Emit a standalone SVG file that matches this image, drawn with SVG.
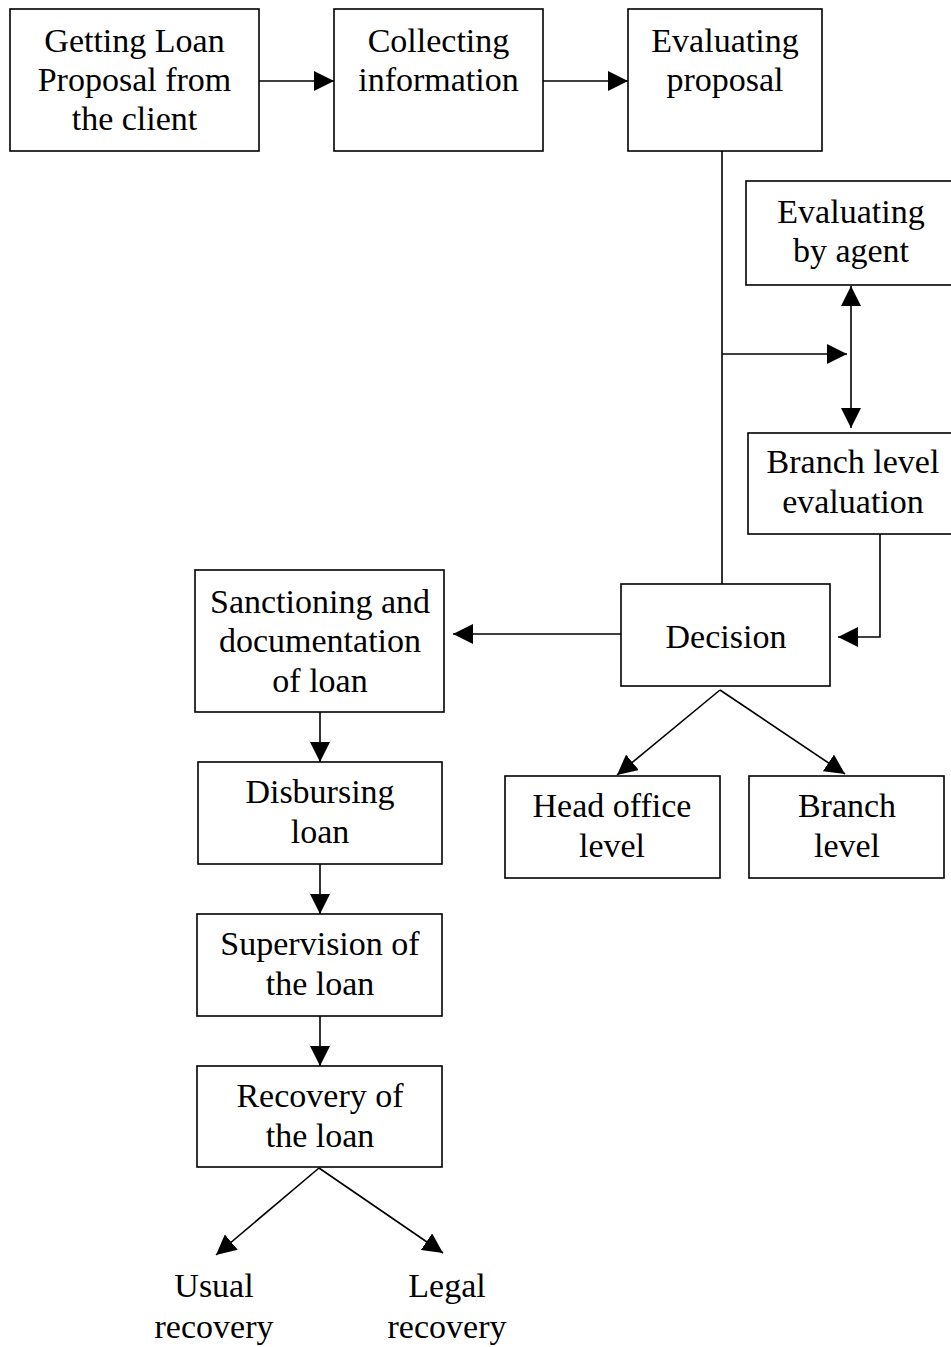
<svg xmlns="http://www.w3.org/2000/svg" width="951" height="1347" viewBox="0 0 951 1347">
<style>
.box{fill:#fff;stroke:#000;stroke-width:1.6}
.ln{fill:none;stroke:#000;stroke-width:1.6}
.t{font-family:"Liberation Serif","Times New Roman",serif;font-size:34px;fill:#000;text-anchor:middle}
</style>
<defs>
<marker id="ah" markerUnits="userSpaceOnUse" markerWidth="20" markerHeight="20" refX="20" refY="10" orient="auto-start-reverse" viewBox="0 0 20 20">
<path d="M0,0 L20,10 L0,20 z" fill="#000"/>
</marker>
</defs>
<rect width="951" height="1347" fill="#fff"/>
<g id="connectors">
<line class="ln" x1="259" y1="81" x2="334" y2="81" marker-end="url(#ah)"/>
<line class="ln" x1="543" y1="81" x2="628" y2="81" marker-end="url(#ah)"/>
<line class="ln" x1="722" y1="151" x2="722" y2="584"/>
<line class="ln" x1="722" y1="354" x2="847" y2="354" marker-end="url(#ah)"/>
<line class="ln" x1="851" y1="286" x2="851" y2="428" marker-start="url(#ah)" marker-end="url(#ah)"/>
<polyline class="ln" points="880,534 880,637 838,637" marker-end="url(#ah)"/>
<line class="ln" x1="621" y1="634" x2="453" y2="634" marker-end="url(#ah)"/>
<line class="ln" x1="720" y1="690" x2="617" y2="775" marker-end="url(#ah)"/>
<line class="ln" x1="720" y1="690" x2="845" y2="774" marker-end="url(#ah)"/>
<line class="ln" x1="320" y1="712" x2="320" y2="762" marker-end="url(#ah)"/>
<line class="ln" x1="320" y1="864" x2="320" y2="914" marker-end="url(#ah)"/>
<line class="ln" x1="320" y1="1016" x2="320" y2="1066" marker-end="url(#ah)"/>
<line class="ln" x1="319" y1="1168" x2="216" y2="1255" marker-end="url(#ah)"/>
<line class="ln" x1="319" y1="1168" x2="443" y2="1253" marker-end="url(#ah)"/>
</g>
<g id="n1"><rect class="box" x="10" y="9" width="249" height="142"/>
<text class="t" x="134.5" y="52">Getting Loan</text><text class="t" x="134.5" y="91">Proposal from</text><text class="t" x="134.5" y="130">the client</text></g>
<g id="n2"><rect class="box" x="334" y="9" width="209" height="142"/>
<text class="t" x="438.5" y="52">Collecting</text><text class="t" x="438.5" y="91">information</text></g>
<g id="n3"><rect class="box" x="628" y="9" width="194" height="142"/>
<text class="t" x="725" y="52">Evaluating</text><text class="t" x="725" y="91">proposal</text></g>
<g id="n4"><rect class="box" x="746" y="181" width="210" height="104"/>
<text class="t" x="851" y="223">Evaluating</text><text class="t" x="851" y="262">by agent</text></g>
<g id="n5"><rect class="box" x="748" y="433" width="210" height="101"/>
<text class="t" x="853" y="473">Branch level</text><text class="t" x="853" y="513">evaluation</text></g>
<g id="n6"><rect class="box" x="621" y="584" width="209" height="102"/>
<text class="t" x="726" y="648">Decision</text></g>
<g id="n7"><rect class="box" x="195" y="570" width="249" height="142"/>
<text class="t" x="320" y="613">Sanctioning and</text><text class="t" x="320" y="652">documentation</text><text class="t" x="320" y="692">of loan</text></g>
<g id="n8"><rect class="box" x="505" y="776" width="215" height="102"/>
<text class="t" x="612" y="817">Head office</text><text class="t" x="612" y="857">level</text></g>
<g id="n9"><rect class="box" x="749" y="776" width="195" height="102"/>
<text class="t" x="847" y="817">Branch</text><text class="t" x="847" y="857">level</text></g>
<g id="n10"><rect class="box" x="198" y="762" width="244" height="102"/>
<text class="t" x="320" y="803">Disbursing</text><text class="t" x="320" y="843">loan</text></g>
<g id="n11"><rect class="box" x="197" y="914" width="245" height="102"/>
<text class="t" x="320" y="955">Supervision of</text><text class="t" x="320" y="995">the loan</text></g>
<g id="n12"><rect class="box" x="197" y="1066" width="245" height="101"/>
<text class="t" x="320" y="1107">Recovery of</text><text class="t" x="320" y="1147">the loan</text></g>
<g id="n13"><text class="t" x="214" y="1297">Usual</text><text class="t" x="214" y="1338">recovery</text></g>
<g id="n14"><text class="t" x="447" y="1297">Legal</text><text class="t" x="447" y="1338">recovery</text></g>
</svg>
